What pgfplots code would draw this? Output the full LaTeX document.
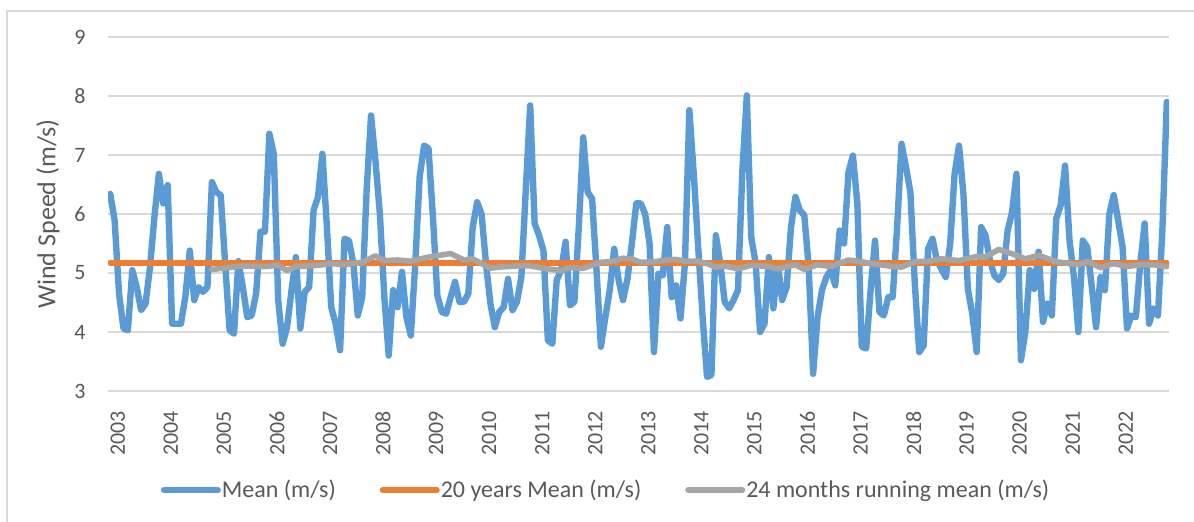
\documentclass[border=0pt]{standalone}
\usepackage{fontspec}
\setmainfont{Carlito}
\usepackage{pgfplots}
\pgfplotsset{compat=1.18}
\definecolor{blueS}{HTML}{5B9BD5}
\definecolor{orangeS}{HTML}{ED7D31}
\definecolor{grayS}{HTML}{A5A5A5}
\definecolor{gridc}{HTML}{D9D9D9}
\definecolor{textc}{HTML}{595959}
\begin{document}
\begin{tikzpicture}
\path[use as bounding box] (0pt,0pt) rectangle (597pt,-261pt);
\draw[gridc, line width=0.75pt] (3.6pt,-262pt) -- (3.6pt,-5.5pt) -- (598pt,-5.5pt);
\begin{axis}[
  at={(54pt,-195.5pt)}, anchor=south west,
  scale only axis, width=530.5pt, height=177pt,
  xmin=-0.5, xmax=239.5, ymin=3, ymax=9,
  ytick={3,4,5,6,7,8,9},
  xtick={0,12,24,36,48,60,72,84,96,108,120,132,144,156,168,180,192,204,216,228},
  xticklabels={2003,2004,2005,2006,2007,2008,2009,2010,2011,2012,2013,2014,2015,2016,2017,2018,2019,2020,2021,2022},
  axis line style={draw=none},
  major tick length=0pt,
  ymajorgrids, grid style={color=gridc, line width=0.9pt},
  /pgf/number format/assume math mode=true,
  tick label style={font=\fontsize{11}{13}\selectfont, text=textc},
  xticklabel style={xshift=3.8pt, yshift=-10pt, rotate=90, anchor=east, inner sep=0pt},
  yticklabel style={xshift=-11pt, anchor=east, inner sep=0pt},
  ylabel={Wind Speed (m/s)},
  every axis y label/.style={at={(axis description cs:0,0.5)}, xshift=-30pt, rotate=90, anchor=center, font=\fontsize{13}{15}\selectfont, text=textc},
  legend columns=3,
  legend style={at={(0.469,-0.28)}, anchor=center, draw=none, fill=none,
    font=\fontsize{12}{14}\selectfont, text=textc,
    /tikz/every even column/.append style={column sep=21.5pt},
    nodes={inner sep=0.5pt}},
  legend image code/.code={\draw[#1, line width=3pt, line cap=round] (0pt,0pt) -- (27pt,0pt);},
]
\addplot[blueS, line width=3.2pt, line join=round, line cap=round] coordinates {
(0,6.34) (1,5.89) (2,4.65) (3,4.06) (4,4.03) (5,5.05) (6,4.76) (7,4.37) (8,4.48) (9,5.10)
(10,5.95) (11,6.68) (12,6.18) (13,6.49) (14,4.14) (15,4.14) (16,4.14) (17,4.60) (18,5.38) (19,4.54)
(20,4.76) (21,4.68) (22,4.76) (23,6.54) (24,6.37) (25,6.32) (26,5.16) (27,4.03) (28,3.97) (29,5.20)
(30,4.76) (31,4.25) (32,4.28) (33,4.65) (34,5.70) (35,5.70) (36,7.36) (37,7.02) (38,4.54) (39,3.80)
(40,4.08) (41,4.70) (42,5.27) (43,4.06) (44,4.68) (45,4.76) (46,6.06) (47,6.29) (48,7.02) (49,5.80)
(50,4.42) (51,4.14) (52,3.69) (53,5.58) (54,5.55) (55,5.16) (56,4.28) (57,4.59) (58,6.40) (59,7.67)
(60,6.90) (61,6.00) (62,4.60) (63,3.60) (64,4.71) (65,4.42) (66,5.02) (67,4.25) (68,3.94) (69,5.16)
(70,6.63) (71,7.16) (72,7.11) (73,5.95) (74,4.62) (75,4.34) (76,4.31) (77,4.59) (78,4.85) (79,4.51)
(80,4.51) (81,4.65) (82,5.78) (83,6.20) (84,6.00) (85,5.16) (86,4.48) (87,4.08) (88,4.34) (89,4.42)
(90,4.90) (91,4.37) (92,4.51) (93,4.93) (94,6.40) (95,7.84) (96,5.84) (97,5.64) (98,5.38) (99,3.86)
(100,3.80) (101,4.88) (102,5.05) (103,5.53) (104,4.45) (105,4.51) (106,5.78) (107,7.30) (108,6.37) (109,6.26)
(110,5.05) (111,3.75) (112,4.25) (113,4.71) (114,5.41) (115,4.88) (116,4.54) (117,4.90) (118,5.50) (119,6.18)
(120,6.18) (121,6.00) (122,5.50) (123,3.66) (124,4.99) (125,4.96) (126,5.78) (127,4.59) (128,4.79) (129,4.23)
(130,5.16) (131,7.76) (132,6.68) (133,5.44) (134,4.25) (135,3.24) (136,3.27) (137,5.64) (138,5.16) (139,4.51)
(140,4.40) (141,4.54) (142,4.71) (143,6.74) (144,8.01) (145,5.61) (146,5.16) (147,4.00) (148,4.14) (149,5.27)
(150,4.40) (151,5.16) (152,4.54) (153,4.76) (154,5.78) (155,6.29) (156,6.06) (157,5.98) (158,5.10) (159,3.29)
(160,4.25) (161,4.71) (162,4.93) (163,5.05) (164,4.79) (165,5.72) (166,5.50) (167,6.71) (168,6.99) (169,6.18)
(170,3.75) (171,3.72) (172,4.71) (173,5.55) (174,4.34) (175,4.28) (176,4.59) (177,4.59) (178,5.78) (179,7.19)
(180,6.80) (181,6.37) (182,4.82) (183,3.66) (184,3.77) (185,5.41) (186,5.58) (187,5.21) (188,5.07) (189,4.93)
(190,5.50) (191,6.68) (192,7.16) (193,6.34) (194,4.73) (195,4.31) (196,3.66) (197,5.78) (198,5.64) (199,5.21)
(200,4.96) (201,4.88) (202,4.99) (203,5.72) (204,6.03) (205,6.68) (206,3.52) (207,4.00) (208,5.05) (209,4.73)
(210,5.36) (211,4.17) (212,4.48) (213,4.28) (214,5.92) (215,6.15) (216,6.82) (217,5.55) (218,4.93) (219,4.00)
(220,5.55) (221,5.44) (222,4.79) (223,4.08) (224,4.93) (225,4.71) (226,6.00) (227,6.32) (228,5.89) (229,5.44)
(230,4.06) (231,4.28) (232,4.25) (233,5.16) (234,5.84) (235,4.14) (236,4.40) (237,4.28) (238,5.72) (239,7.90)
};
\addlegendentry{Mean (m/s)}
\addplot[orangeS, line width=3pt, line cap=round] coordinates {(0,5.17) (239,5.17)};
\addlegendentry{20 years Mean (m/s)}
\addplot[grayS, line width=2.8pt, line join=round, line cap=round] coordinates {
(23,5.06) (30,5.12) (35,5.11) (38,5.13) (40,5.04) (42,5.11) (47,5.13) (50,5.16) (53,5.14) (57,5.18)
(60,5.29) (62,5.21) (65,5.22) (68,5.20) (72,5.27) (77,5.33) (80,5.22) (82,5.24) (86,5.08) (88,5.10)
(92,5.12) (95,5.12) (98,5.08) (100,5.06) (102,5.04) (104,5.09) (107,5.08) (111,5.18) (114,5.20) (116,5.25)
(118,5.24) (120,5.18) (123,5.19) (126,5.22) (128,5.23) (130,5.20) (133,5.20) (135,5.16) (137,5.10) (139,5.12)
(142,5.07) (145,5.13) (149,5.11) (151,5.07) (155,5.14) (157,5.06) (160,5.14) (163,5.11) (167,5.22) (170,5.19)
(173,5.15) (176,5.12) (179,5.10) (182,5.19) (185,5.20) (188,5.24) (192,5.21) (196,5.28) (198,5.27) (201,5.40)
(205,5.30) (207,5.24) (210,5.30) (214,5.19) (219,5.14) (221,5.20) (224,5.09) (227,5.16) (230,5.11) (233,5.14)
(236,5.14) (239,5.11)
};
\addlegendentry{24 months running mean (m/s)}
\end{axis}
\end{tikzpicture}
\end{document}
